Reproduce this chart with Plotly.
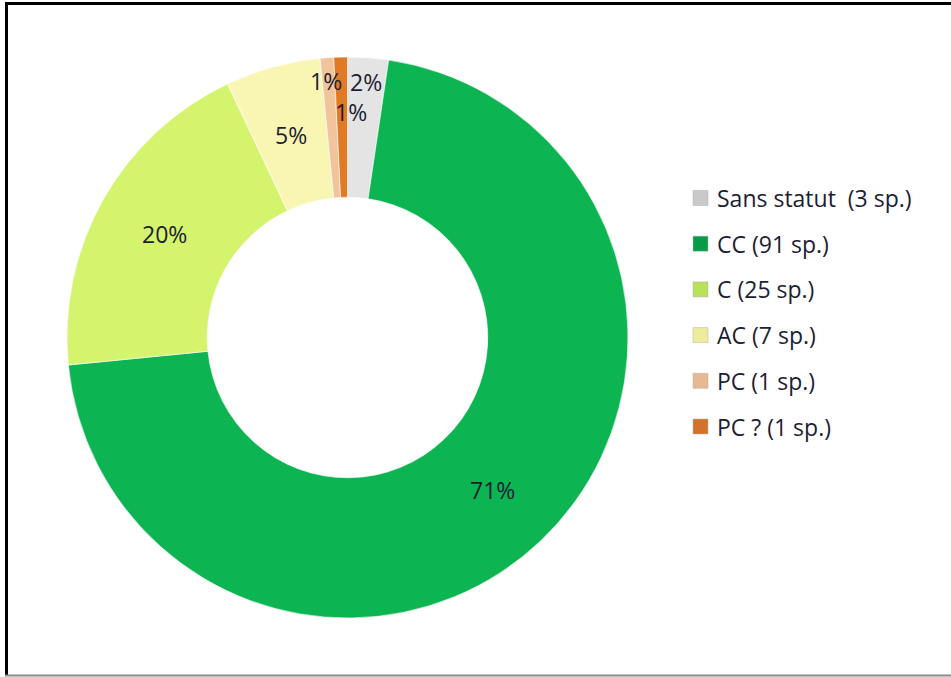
import math
import plotly.graph_objects as go

# ---- data ----
categories = ["Sans statut", "CC", "C", "AC", "PC", "PC ?"]
species_counts = [3, 91, 25, 7, 1, 1]
legend_labels = ["Sans statut  (3 sp.)", "CC (91 sp.)", "C (25 sp.)", "AC (7 sp.)", "PC (1 sp.)", "PC ? (1 sp.)"]

# ---- style ----
slice_colors = ["#e4e4e4", "#0db552", "#d3f46c", "#f9f6b4", "#f1c49c", "#e07a24"]
legend_colors = ["#c9c9c9", "#079a48", "#b7e25a", "#ecec9c", "#e8b893", "#d3722a"]
label_radius = [0.915, 0.75, 0.75, 0.75, 0.917, 0.804]
label_xshift = [0, 0, 0, 0, -3, 9]

W, H = 951, 677
px0, px1 = 65, 630
py0, py1 = 57, 618
cx, cy = (px0 + px1) / 2, (py0 + py1) / 2
R = min(px1 - px0, py1 - py0) / 2
hole = 0.5
text_color = "#1d1d33"
font_family = "Open Sans"

fig = go.Figure(go.Pie(
    labels=categories,
    values=species_counts,
    hole=hole,
    sort=False,
    direction="clockwise",
    rotation=0,
    textinfo="none",
    hoverinfo="label+value+percent",
    marker=dict(colors=slice_colors, line=dict(color="rgba(255,255,255,0.6)", width=1)),
    domain=dict(x=[px0 / W, px1 / W], y=[1 - py1 / H, 1 - py0 / H]),
    showlegend=False,
))

total = sum(species_counts)
annotations = []
cum = 0
for i, v in enumerate(species_counts):
    mid = (cum + v / 2) / total * 2 * math.pi
    cum += v
    r = R * label_radius[i]
    x = cx + r * math.sin(mid)
    y = cy - r * math.cos(mid)
    pct = f"{round(v / total * 100)}%"
    annotations.append(dict(
        x=x / W, y=1 - y / H, xref="paper", yref="paper",
        xanchor="center", yanchor="middle",
        text=pct, showarrow=False, xshift=label_xshift[i],
        font=dict(family=font_family, size=23, color=text_color),
    ))

# manual legend
leg_x = 693
leg_y0 = 198
leg_dy = 45.7
shapes = []
for i, (lab, col) in enumerate(zip(legend_labels, legend_colors)):
    yc = leg_y0 + i * leg_dy
    shapes.append(dict(type="rect", xref="paper", yref="paper",
                       x0=leg_x / W, x1=(leg_x + 15) / W,
                       y0=1 - (yc + 7.5) / H, y1=1 - (yc - 7.5) / H,
                       fillcolor=col, line=dict(color="#b0b0b0", width=0.5)))
    annotations.append(dict(
        x=715 / W, y=1 - yc / H, xref="paper", yref="paper",
        xanchor="left", yanchor="middle", text=lab, showarrow=False,
        font=dict(family=font_family, size=23, color=text_color),
    ))

# frame
shapes += [
    dict(type="line", xref="paper", yref="paper", x0=6.5 / W, x1=6.5 / W, y0=1 - 676 / H, y1=1 - 2 / H,
         line=dict(color="black", width=3)),
    dict(type="line", xref="paper", yref="paper", x0=5 / W, x1=1.0, y0=1 - 3.5 / H, y1=1 - 3.5 / H,
         line=dict(color="black", width=3)),
    dict(type="line", xref="paper", yref="paper", x0=5 / W, x1=1.0, y0=1 - 675.5 / H, y1=1 - 675.5 / H,
         line=dict(color="#8a8a8a", width=2)),
]

fig.update_layout(
    width=W, height=H,
    margin=dict(l=0, r=0, t=0, b=0),
    paper_bgcolor="white", plot_bgcolor="white",
    annotations=annotations, shapes=shapes,
)

fig.write_html("out.html", config={"displayModeBar": False},
               post_script="document.body.style.margin='0px';document.body.style.overflow='hidden';")
